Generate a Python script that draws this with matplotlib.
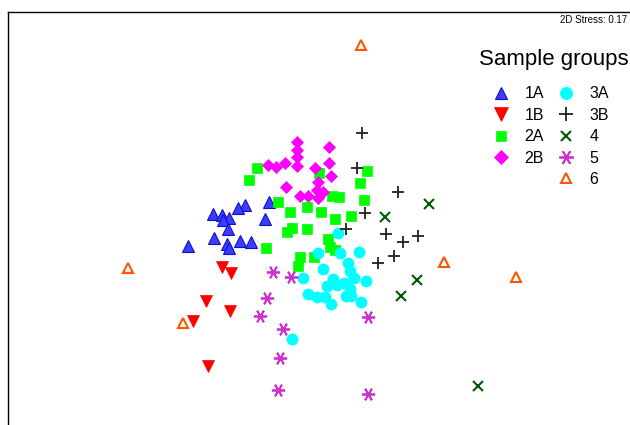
import matplotlib.pyplot as plt
from matplotlib.lines import Line2D

plt.rcParams['font.family'] = ['Liberation Sans', 'DejaVu Sans']

# nMDS ordination coordinates (screen units)
x_1a = [269, 245, 238, 213, 222, 229, 223, 265, 228, 214, 240, 251, 227, 229, 188]
y_1a = [202, 205, 208, 214, 215, 218, 220, 219, 229, 238, 241, 242, 244, 248, 246]

x_1b = [222, 231, 206, 230, 193, 208]
y_1b = [267, 273, 301, 311, 321, 366]

x_2a = [257, 249, 319, 367, 360, 364, 278, 290, 307, 321, 332, 339, 335, 351,
        292, 287, 307, 328, 330, 335, 266, 300, 314, 298]
y_2a = [168, 180, 173, 171, 183, 200, 202, 212, 207, 212, 196, 197, 219, 216,
        228, 232, 229, 239, 247, 250, 248, 257, 257, 266]

x_2b = [297, 329, 297, 297, 297, 268, 276, 285, 329, 315, 331, 318, 286, 300,
        308, 317, 323, 318]
y_2b = [142, 147, 150, 157, 166, 165, 167, 163, 163, 168, 176, 182, 187, 196,
        196, 190, 192, 198]

x_3a = [338, 318, 340, 359, 348, 350, 323, 354, 303, 333, 327, 344, 366, 337,
        350, 308, 317, 325, 346, 351, 331, 361, 292]
y_3a = [233, 253, 253, 252, 263, 271, 269, 278, 278, 279, 286, 283, 281, 285,
        289, 294, 297, 297, 296, 296, 304, 302, 339]

x_3b = [362, 357, 398, 365, 346, 386, 403, 418, 394, 378]
y_3b = [133, 168, 192, 213, 229, 234, 242, 236, 256, 263]

x_4 = [385, 429, 417, 401, 478]
y_4 = [217, 204, 280, 296, 386]

x_5 = [273, 291, 267, 260, 283, 280, 278, 368, 368]
y_5 = [272, 277, 298, 316, 329, 358, 390, 317, 394]

x_6 = [128, 183, 361, 444, 516]
y_6 = [268, 323, 45, 262, 277]

labels = ['1A', '1B', '2A', '2B', '3A', '3B', '4', '5', '6']

fig = plt.figure(figsize=(6.3, 4.25), dpi=100)
ax = fig.add_axes([8 / 630, -10 / 425, 640 / 630, 423 / 425])

groups = [
    (x_1a, y_1a, dict(marker='^', ms=8.5, mfc='#3c3cff', mec='#1010c8', mew=0.8)),
    (x_1b, y_1b, dict(marker='v', ms=9, mfc='#ff0000', mec='#ff0000', mew=0.5)),
    (x_2a, y_2a, dict(marker='s', ms=7, mfc='#00ff00', mec='#00ff00', mew=0.5)),
    (x_2b, y_2b, dict(marker='D', ms=6.5, mfc='#ff00ff', mec='#ff00ff', mew=0.5)),
    (x_3a, y_3a, dict(marker='o', ms=8, mfc='#00ffff', mec='#00ffff', mew=0.5)),
    (x_3b, y_3b, dict(marker='+', ms=9, mec='#222222', mew=1.3)),
    (x_4, y_4, dict(marker='x', ms=7, mec='#005a00', mew=1.5)),
    (x_5, y_5, dict(marker=(6, 2, 90), ms=9.5, mec='#d030d0', mew=1.3)),
    (x_6, y_6, dict(marker='^', ms=7, mfc='white', mec='#ff5500', mew=1.5)),
]

handles = []
for (xs, ys, st), lab in zip(groups, labels):
    h, = ax.plot(xs, ys, ls='none', label=lab, **st)
    handles.append(h)

ax.set_xlim(8, 648)
ax.set_ylim(435, 12)
ax.set_xticks([])
ax.set_yticks([])
for s in ax.spines.values():
    s.set_linewidth(1.0)
    s.set_color('black')

# legend: two columns (4 + 6 entries), title drawn separately
blank = Line2D([], [], ls='none', marker='')
leg_handles = handles[:4] + [blank, blank] + handles[4:]
leg_labels = labels[:4] + ['', ''] + labels[4:]
ax.legend(leg_handles, leg_labels, ncol=2, frameon=False, fontsize=11.5,
          numpoints=1, markerscale=1.1, handlelength=2.75, handletextpad=0.1,
          columnspacing=0.0, labelspacing=0.4, borderpad=0,
          borderaxespad=0, loc='upper left',
          bbox_to_anchor=(479 / 630, 1 - 86.5 / 425),
          bbox_transform=fig.transFigure)
fig.text(479 / 630, 1 - 60 / 425, 'Sample groups', ha='left', va='center',
         fontsize=16)

fig.text(627 / 630, 1 - 20 / 425, '2D Stress: 0.17', ha='right', va='center',
         fontsize=7)

fig.savefig('out.png', dpi=100)
